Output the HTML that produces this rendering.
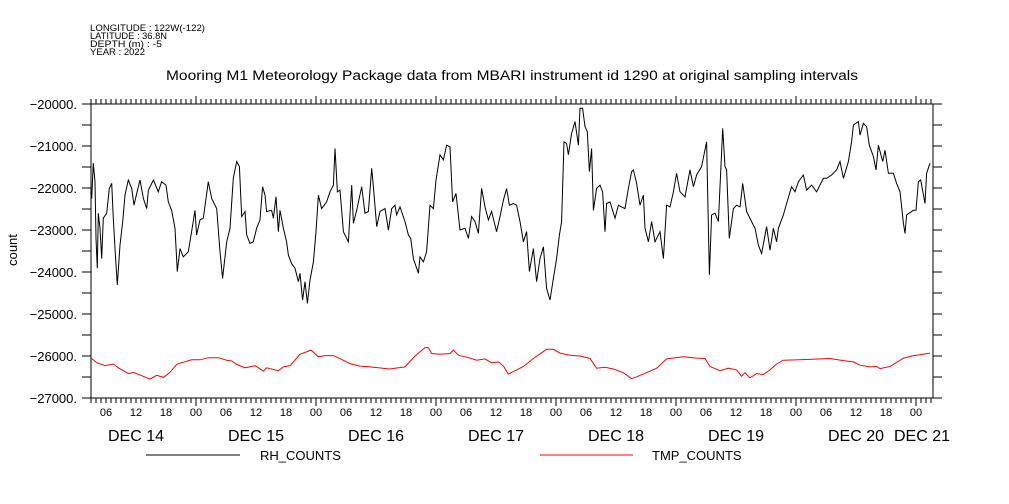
<!DOCTYPE html>
<html><head><meta charset="utf-8"><style>
body{margin:0;background:#fff;}
svg{display:block;font-family:"Liberation Sans",sans-serif;}
</style></head><body>
<svg id="chart" width="1009" height="504" viewBox="0 0 1009 504">
<g font-size="9.5" fill="#000">
<text x="90" y="31" textLength="115" lengthAdjust="spacingAndGlyphs">LONGITUDE : 122W(-122)</text>
<text x="90" y="39" textLength="77" lengthAdjust="spacingAndGlyphs">LATITUDE : 36.8N</text>
<text x="90" y="47" textLength="72" lengthAdjust="spacingAndGlyphs">DEPTH (m) : -5</text>
<text x="90" y="55" textLength="55" lengthAdjust="spacingAndGlyphs">YEAR : 2022</text>
</g>
<text x="166" y="80" textLength="692" lengthAdjust="spacingAndGlyphs" font-size="13.5">Mooring M1 Meteorology Package data from MBARI instrument id 1290 at original sampling intervals</text>
<text transform="translate(17,250) rotate(-90)" text-anchor="middle" font-size="13">count</text>
<g id="axes"></g>
<g id="series"></g>
<g>
<line x1="146" y1="455" x2="240" y2="455" stroke="#000"/>
<text x="260" y="460" font-size="13">RH_COUNTS</text>
<line x1="540" y1="455" x2="633" y2="455" stroke="#f00"/>
<text x="652" y="460" font-size="13">TMP_COUNTS</text>
</g>
</svg>
<script>
const yTicks=[-20000,-21000,-22000,-23000,-24000,-25000,-26000,-27000];
const dayLabels=["DEC 14","DEC 15","DEC 16","DEC 17","DEC 18","DEC 19","DEC 20","DEC 21"];
const hourLabels=["00","06","12","18"];
const rhHours=[3.13,3.47,3.8,4.0,4.27,4.47,4.8,5.13,5.47,6.13,6.67,7.13,7.47,7.8,8.27,8.8,9.33,9.8,10.47,11.13,11.6,12.13,12.8,13.47,14.13,14.47,15.47,16.47,17.13,18.0,18.47,19.13,19.8,20.27,20.8,21.47,22.47,23.13,23.8,24.13,24.8,25.47,26.47,27.13,28.13,28.8,29.33,30.13,30.8,31.47,32.13,32.67,33.13,33.8,34.13,34.8,35.47,36.13,36.8,37.33,37.8,38.13,39.13,39.47,40.0,40.47,40.8,41.47,42.13,42.47,43.13,43.8,44.47,44.8,45.33,45.8,46.27,46.8,47.47,48.0,48.47,49.13,50.13,50.8,51.47,51.8,52.27,52.8,53.47,54.47,55.13,55.47,56.13,57.13,57.8,58.47,59.13,59.47,60.13,60.8,61.8,62.47,63.13,63.8,64.13,64.8,65.8,66.47,66.93,67.47,68.47,68.8,69.47,70.13,70.8,71.47,72.0,72.8,73.47,74.13,74.8,75.33,76.0,76.8,77.8,78.47,79.13,79.8,80.47,81.13,81.8,82.47,83.13,84.13,84.8,85.47,86.13,86.67,87.47,88.13,88.8,89.47,90.13,90.67,91.47,92.13,92.8,93.47,94.13,94.8,95.47,96.13,96.67,97.13,97.6,98.13,98.47,99.13,99.8,100.47,100.8,101.33,101.8,102.27,102.67,103.13,103.47,104.13,104.8,105.33,105.8,106.13,106.8,107.8,108.47,109.13,109.8,110.47,111.13,111.47,112.13,112.8,113.47,113.8,114.47,115.13,115.8,116.8,117.47,118.13,118.8,119.47,120.13,120.8,121.8,122.8,123.47,124.13,125.13,126.13,126.67,127.13,127.8,128.47,129.33,129.8,130.13,130.67,131.47,132.13,132.8,133.33,134.13,135.13,135.8,136.47,137.13,138.13,138.8,139.47,140.13,140.47,141.47,142.13,143.13,143.8,144.47,145.47,146.13,147.13,148.13,149.47,150.13,151.13,152.13,152.8,153.47,154.47,155.13,155.47,156.47,156.8,157.47,158.13,158.67,159.47,160.0,160.47,161.33,161.8,162.47,163.47,164.13,164.8,165.47,165.8,166.13,167.47,168.0,168.47,168.93,169.8,170.13,170.8];
const rhValues=[-22250,-21410,-21850,-23200,-23910,-22600,-22960,-23680,-22720,-22600,-22010,-21890,-22720,-23440,-24310,-23360,-22800,-22170,-21810,-22010,-22410,-22130,-21810,-22250,-22490,-22050,-21810,-22090,-21850,-21930,-22330,-22530,-22960,-23990,-23440,-23640,-23520,-23040,-22530,-23120,-22760,-22720,-21850,-22250,-22490,-23520,-24150,-23280,-22960,-21770,-21370,-21490,-22680,-22560,-23120,-23320,-23280,-22960,-22760,-21970,-22170,-22560,-22530,-22720,-22210,-23040,-22530,-22960,-23280,-23600,-23800,-23910,-24230,-24030,-24670,-24230,-24750,-24190,-23760,-23040,-22170,-22490,-22330,-22090,-21930,-21060,-22090,-22050,-23040,-23280,-21930,-22840,-22530,-21970,-22600,-22560,-21530,-21970,-22920,-22560,-22490,-23000,-22490,-22410,-22640,-22450,-22800,-23120,-23200,-23680,-24030,-23640,-23760,-23520,-22410,-22490,-21810,-21210,-21330,-20980,-21020,-22330,-22130,-23000,-22960,-23200,-22680,-22800,-23080,-22010,-22450,-22760,-22560,-23040,-22680,-22290,-22010,-22410,-22370,-22410,-22800,-23280,-23040,-23990,-23440,-24230,-23680,-23400,-24390,-24670,-24150,-23680,-23120,-22800,-20900,-20940,-21210,-20700,-20420,-20980,-20100,-20100,-20540,-20660,-21610,-21060,-22530,-22010,-21930,-22090,-23040,-22370,-22330,-22720,-22410,-22450,-22490,-22010,-21610,-21570,-21890,-22410,-22170,-22960,-23280,-22800,-23280,-23040,-23680,-22410,-22450,-22090,-21650,-22090,-22210,-21570,-21970,-21690,-21490,-20900,-24070,-22640,-22600,-22800,-20580,-21490,-21570,-23200,-22490,-22410,-22450,-21890,-22560,-22800,-22960,-23360,-23560,-22920,-23480,-22960,-23280,-22960,-22640,-22370,-21970,-22090,-21850,-21690,-22050,-21930,-22090,-21770,-21770,-21690,-21570,-21370,-21770,-21370,-20900,-20500,-20420,-20740,-20460,-20540,-20980,-21250,-21570,-20980,-21370,-21100,-21650,-21650,-21890,-22090,-22840,-23080,-22640,-22530,-22530,-21850,-21810,-22370,-21650,-21410];
const tmpHours=[3.13,4.13,5.8,7.47,8.47,10.47,11.47,13.13,14.8,16.13,17.47,18.8,20.13,21.13,23.13,24.8,26.47,28.47,30.13,31.13,32.13,33.8,35.8,37.47,38.13,40.47,41.47,42.8,44.8,47.0,48.47,49.8,51.47,53.13,54.8,56.8,58.8,60.47,62.8,64.47,65.8,67.8,69.8,70.47,71.13,72.8,74.8,75.47,76.47,78.47,80.13,81.8,83.13,84.47,85.47,86.47,87.8,88.13,89.47,91.47,94.13,95.47,96.8,98.8,100.8,102.8,104.13,105.8,107.47,109.47,111.13,113.47,116.13,118.13,121.47,124.13,125.8,126.8,128.8,130.47,132.13,133.13,133.8,134.8,136.13,137.47,138.8,140.13,141.47,144.8,150.8,153.47,155.47,156.8,158.8,160.13,160.8,162.8,165.47,167.47,168.8,170.8];
const tmpValues=[-26060,-26160,-26230,-26190,-26280,-26420,-26390,-26470,-26550,-26460,-26510,-26390,-26200,-26160,-26090,-26090,-26040,-26040,-26100,-26120,-26200,-26280,-26230,-26360,-26280,-26350,-26260,-26230,-25960,-25860,-26020,-25990,-25990,-26080,-26180,-26240,-26260,-26280,-26310,-26280,-26260,-26000,-25800,-25800,-25940,-25960,-25940,-25860,-25980,-26040,-26100,-26070,-26160,-26140,-26240,-26430,-26350,-26330,-26250,-26060,-25840,-25840,-25930,-25980,-26000,-26060,-26290,-26270,-26310,-26400,-26540,-26430,-26290,-26070,-26020,-26050,-26060,-26250,-26350,-26290,-26330,-26480,-26400,-26520,-26420,-26440,-26330,-26190,-26100,-26090,-26060,-26110,-26140,-26220,-26260,-26250,-26300,-26250,-26050,-25990,-25970,-25930];

const L=91,R=933,T=104,B=398;
const X0=76, PX_PER_H=5;
function xs(h){return X0+h*PX_PER_H;}
function ys(v){return T+(-20000-v)/7000*(B-T);}
const NS="http://www.w3.org/2000/svg";
const axes=document.getElementById('axes');
function mk(tag,attrs,parent){const e=document.createElementNS(NS,tag);for(const k in attrs)e.setAttribute(k,attrs[k]);parent.appendChild(e);return e;}
const frame=mk('rect',{x:L,y:T,width:R-L,height:B-T,fill:'none',stroke:'#000','stroke-width':1},axes);


for(let v=-20000;v>=-27000;v-=500){
  const y=ys(v);
  mk('line',{x1:L-9,y1:y,x2:L,y2:y,stroke:'#000'},axes);
  mk('line',{x1:R,y1:y,x2:R+9,y2:y,stroke:'#000'},axes);
}
yTicks.forEach(v=>{
  const t=mk('text',{x:L-14,y:ys(v)+5,'text-anchor':'end','font-size':13},axes);
  t.textContent=String(v).replace('-','\u2212')+'.';
  
  
});
const hStart=Math.ceil((L-X0)/PX_PER_H), hEnd=Math.floor((R-X0)/PX_PER_H);
for(let h=hStart;h<=hEnd;h++){
  const x=xs(h), len=(h%24===0)?8:5;
  mk('line',{x1:x,y1:T-len,x2:x,y2:T,stroke:'#000'},axes);
  mk('line',{x1:x,y1:B,x2:x,y2:B+len,stroke:'#000'},axes);
}
for(let h=6;h<=hEnd;h+=6){
  const t=mk('text',{x:xs(h),y:416,'text-anchor':'middle','font-size':11},axes);
  t.textContent=hourLabels[(h%24)/6];
  
  
}
dayLabels.forEach((d,i)=>{
  let h=i*24+12; let x=xs(h); if(x>R) x=922;
  const t=mk('text',{x:x,y:441,'text-anchor':'middle','font-size':16},axes);
  t.textContent=d;
  
  
});
const ser=document.getElementById('series');
function line(hs,vs,col,name){
  const pts=hs.map((h,i)=>xs(h).toFixed(1)+','+ys(vs[i]).toFixed(1)).join(' ');
  const p=mk('polyline',{points:pts,fill:'none',stroke:col,'stroke-width':1},ser);
  
  
}
line(rhHours,rhValues,'#000','rh-counts-line');
line(tmpHours,tmpValues,'#f00','tmp-counts-line');
</script>
</body></html>
